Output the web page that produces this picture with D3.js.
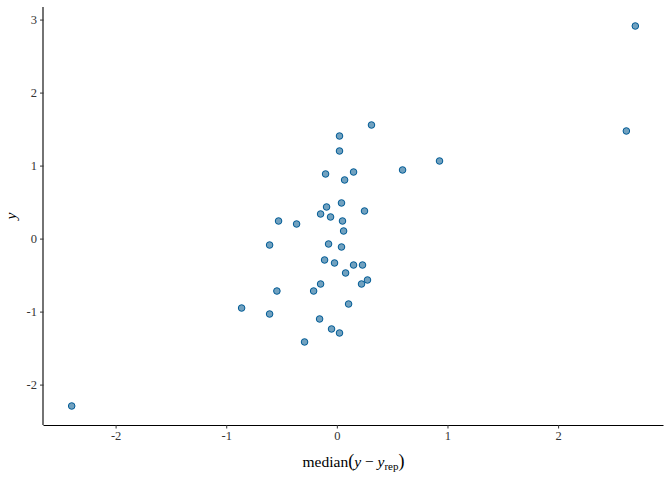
<!DOCTYPE html>
<html><head><meta charset="utf-8">
<script src="https://cdn.jsdelivr.net/npm/d3@7"></script>
<style>body{margin:0;background:#fff}svg{display:block}</style>
</head><body>
<svg id="chart" width="672" height="480"></svg>
<script>
const xValues = [0.313,0.024,0.024,0.928,0.594,-0.102,0.151,0.070,0.042,-0.093,-0.147,-0.057,0.250,0.051,-0.527,-0.364,0.061,-0.608,-0.075,0.042,-0.111,-0.021,0.151,0.232,0.079,-0.147,0.223,0.277,-0.542,-0.210,0.106,-0.861,-0.608,-0.156,-0.048,0.024,-0.292,2.698,2.617,-2.397];
const yValues = [1.556,1.405,1.200,1.063,0.940,0.885,0.912,0.803,0.488,0.433,0.337,0.296,0.378,0.241,0.241,0.200,0.104,-0.088,-0.074,-0.115,-0.293,-0.334,-0.362,-0.362,-0.471,-0.622,-0.622,-0.567,-0.718,-0.718,-0.896,-0.951,-1.033,-1.101,-1.238,-1.293,-1.416,2.912,1.474,-2.293];
const xTicks = [-2,-1,0,1,2];
const yTicks = [-2,-1,0,1,2,3];

const svg = d3.select("#chart");
const mLeft = 43.5, mRight = 663.5, mTop = 7, mBottom = 425;

const xExt = d3.extent(xValues), yExt = d3.extent(yValues);
const xPad = (xExt[1]-xExt[0])*0.05, yPad = (yExt[1]-yExt[0])*0.05;
const x = d3.scaleLinear().domain([xExt[0]-xPad, xExt[1]+xPad]).range([mLeft, mRight]);
const y = d3.scaleLinear().domain([yExt[0]-yPad, yExt[1]+yPad]).range([mBottom, mTop]);

const font = "'Liberation Serif','Times New Roman',serif";
const fmt = d => String(d);

const xAxis = svg.append("g").attr("transform", `translate(0,${mBottom})`)
  .call(d3.axisBottom(x).tickValues(xTicks).tickSize(3.5).tickPadding(3).tickFormat(fmt));
const yAxis = svg.append("g").attr("transform", `translate(${mLeft},0)`)
  .call(d3.axisLeft(y).tickValues(yTicks).tickSize(3.5).tickPadding(3).tickFormat(fmt));
[xAxis, yAxis].forEach(g => {
  g.select(".domain").attr("stroke", "#000").attr("stroke-width", 1.1);
  g.selectAll(".tick line").attr("stroke", "#333").attr("stroke-width", 1);
  g.selectAll(".tick text").attr("fill", "#333").style("font-family", font).style("font-size", "12.5px");
});
xAxis.select(".domain").attr("d", `M${mLeft},0.5H${mRight}`);
yAxis.select(".domain").attr("d", `M-0.5,${mTop}V${mBottom}`);

svg.append("g").selectAll("circle").data(xValues.map((v,i)=>[v,yValues[i]])).join("circle")
  .attr("cx", d => x(d[0])).attr("cy", d => y(d[1])).attr("r", 3.3)
  .attr("fill", "#71a1bf").attr("stroke", "#005b96").attr("stroke-width", 1);

// axis titles
const xt = svg.append("text").attr("x", (mLeft+mRight)/2).attr("y", 467)
  .attr("text-anchor", "middle").style("font-family", font).style("font-size", "15.5px").attr("fill", "#000");
xt.append("tspan").text("median");
xt.append("tspan").text("(").style("font-size", "18px");
xt.append("tspan").text("y").style("font-style", "italic");
xt.append("tspan").text(" \u2212 ");
xt.append("tspan").text("y").style("font-style", "italic");
xt.append("tspan").text("rep").attr("dy", 3).style("font-size", "11px");
xt.append("tspan").text(")").attr("dy", -3).style("font-size", "18px");

svg.append("text").attr("transform", `translate(16,${(mTop+mBottom)/2}) rotate(-90)`)
  .attr("text-anchor", "middle").style("font-family", font).style("font-size", "15.5px")
  .style("font-style", "italic").attr("fill", "#000").text("y");
</script>
</body></html>
